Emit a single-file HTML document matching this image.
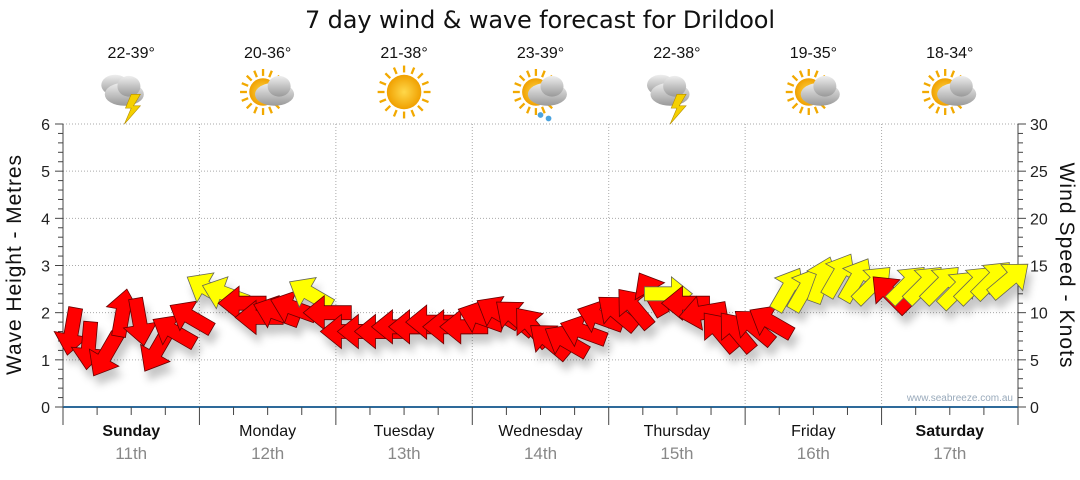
<!DOCTYPE html>
<html><head><meta charset="utf-8"><style>
body{margin:0;background:#fff;font-family:"Liberation Sans",sans-serif}
svg text{font-family:"Liberation Sans",sans-serif}
</style></head><body>
<svg id="c" width="1080" height="475" viewBox="0 0 1080 475">
<defs>
<filter id="sh" x="-50%" y="-50%" width="200%" height="200%"><feDropShadow dx="4" dy="9" stdDeviation="4" flood-color="#000" flood-opacity="0.22"/></filter>
<radialGradient id="sun"><stop offset="0" stop-color="#ffd84a"/><stop offset="1" stop-color="#f0a000"/></radialGradient>
<linearGradient id="cl" x1="0" y1="0" x2="0" y2="1"><stop offset="0" stop-color="#eee"/><stop offset="1" stop-color="#999"/></linearGradient>
</defs>
<text x="540" y="28" font-size="24" text-anchor="middle" fill="#111" style="font-family:'DejaVu Sans',sans-serif" textLength="470">7 day wind &amp; wave forecast for Drildool</text>
<g id="grid"></g><g id="axes"></g><g id="top"></g>
<g id="arrows" filter="url(#sh)"></g>
<text x="1013" y="401" font-size="10" text-anchor="end" fill="#9ab">www.seabreeze.com.au</text>
<text transform="translate(21,265) rotate(-90)" font-size="21" text-anchor="middle" fill="#111" textLength="220">Wave Height - Metres</text>
<text transform="translate(1060,265) rotate(90)" font-size="21" text-anchor="middle" fill="#111" textLength="205">Wind Speed - Knots</text>
</svg>
<script>
const days=["Sunday","Monday","Tuesday","Wednesday","Thursday","Friday","Saturday"];
const dates=["11th","12th","13th","14th","15th","16th","17th"];
const temps=["22-39°","20-36°","21-38°","23-39°","22-38°","19-35°","18-34°"];
const icons=["storm","partly","sun","rain","storm","partly","partly"];
const waveTicks=[0,1,2,3,4,5,6];
const windTicks=[0,5,10,15,20,25,30];
const windKnots=[8,6.5,5.5,10,9,6,8,9.5, 12.5,12,11,9.5,10,10.5,12,10, 8,8,8,8.5,8.5,9,8.5,8.5, 9.5,10,9.5,8.5,7,7,8,9.5, 10,10.5,12,12,11,10,8,8, 8.5,9,12.5,12.5,13.5,14,13.5,13, 12,13,13,13,12.5,13,13.5,13.5];
const windDir=[100,95,120,-80,80,120,-150,-150, -150,-160,180,180,-160,-160,-150,180, 180,180,180,180,180,180,180,180, -160,-150,-140,-130,-140,-150,-160,-160, -140,-130,-120,0,180,170,-130,-130, -140,-150,-60,-60,-70,-60,-60,-45, -135,-45,-45,-45,-45,-45,-45,-40];
const windColor=["r","r","r","r","r","r","r","r", "y","y","r","r","r","r","y","r", "r","r","r","r","r","r","r","r", "r","r","r","r","r","r","r","r", "r","r","r","y","r","r","r","r", "r","r","y","y","y","y","y","y", "r","y","y","y","y","y","y","y"];
const NS="http://www.w3.org/2000/svg";
const X0=63,X1=1018,Y0=407,Y1=124,DW=(X1-X0)/7;
const yM=v=>Y0-(v/6)*(Y0-Y1), yK=v=>Y0-(v/30)*(Y0-Y1), xH=h=>X0+h/168*(X1-X0);
function mk(t,a,p){const e=document.createElementNS(NS,t);for(const k in a)e.setAttribute(k,a[k]);(p||document.getElementById('c')).appendChild(e);return e;}
const grid=document.getElementById('grid'),axes=document.getElementById('axes'),top_=document.getElementById('top');
waveTicks.forEach(v=>{if(v>0){const l=mk('line',{x1:X0,x2:X1,y1:yM(v),y2:yM(v),stroke:'#aaa','stroke-dasharray':'1,2'},grid);}
 const t=mk('text',{x:50,y:yM(v)+6,'font-size':16,'text-anchor':'end',fill:'#222'},axes);t.textContent=v;});
windTicks.forEach(v=>{const t=mk('text',{x:1030,y:yK(v)+6,'font-size':16,fill:'#222'},axes);t.textContent=v;});
for(let i=0;i<=30;i++){const y=yK(i),w=i%5==0?8:5;mk('line',{x1:X0-w,x2:X0,y1:y,y2:y,stroke:'#444'},axes);mk('line',{x1:X1,x2:X1+w,y1:y,y2:y,stroke:'#444'},axes);}
mk('line',{x1:X0,x2:X0,y1:Y1,y2:Y0,stroke:'#444'},axes);mk('line',{x1:X1,x2:X1,y1:Y1,y2:Y0,stroke:'#444'},axes);
const xa=mk('line',{x1:X0,x2:X1,y1:Y0,y2:Y0,stroke:'#2e6a9a','stroke-width':2},axes);
for(let h=0;h<=168;h+=6){const x=xH(h);mk('line',{x1:x,x2:x,y1:Y0,y2:Y0+(h%24==0?18:8),stroke:'#444'},axes);}
days.forEach((d,i)=>{const cx=X0+DW*(i+0.5);
 if(i>0){const l=mk('line',{x1:X0+DW*i,x2:X0+DW*i,y1:Y1,y2:Y0,stroke:'#aaa','stroke-dasharray':'1,2'},grid);}
 const t=mk('text',{x:cx,y:436,'font-size':16,'text-anchor':'middle',fill:'#111','font-weight':(i==0||i==6)?'bold':'normal'},axes);t.textContent=d;
 const t2=mk('text',{x:cx,y:459,'font-size':17,'text-anchor':'middle',fill:'#888'},axes);t2.textContent=dates[i];
 const t3=mk('text',{x:cx,y:58,'font-size':16,'text-anchor':'middle',fill:'#111'},top_);t3.textContent=temps[i];
 const g=mk('g',{transform:`translate(${cx},92) scale(1.15)`},top_);
 const ic=icons[i];
 if(ic!="storm"){const sx=ic=="sun"?0:-4,r=ic=="sun"?15:12;
  for(let a=0;a<360;a+=22.5){const rad=a*Math.PI/180;mk('line',{x1:sx+Math.cos(rad)*(r+2),y1:Math.sin(rad)*(r+2),x2:sx+Math.cos(rad)*(r+8),y2:Math.sin(rad)*(r+8),stroke:'#f2a900','stroke-width':2},g);}
  mk('circle',{cx:sx,cy:0,r:r,fill:'url(#sun)'},g);}
 if(ic!="sun"){const ox=ic=="storm"?-6:6;
  if(ic=="storm"){mk('ellipse',{cx:ox-8,cy:-6,rx:12,ry:9,fill:'url(#cl)'},g);}
  mk('ellipse',{cx:ox,cy:2,rx:17,ry:10,fill:'url(#cl)'},g);mk('ellipse',{cx:ox+4,cy:-5,rx:10,ry:9,fill:'url(#cl)'},g);
  if(ic=="storm")mk('polygon',{points:"0,2 8,2 2,12 8,12 -6,28 0,14 -5,14",fill:'#f5d000',stroke:'#b08a00','stroke-width':0.5},g);
  if(ic=="rain"){mk('circle',{cx:0,cy:20,r:2.5,fill:'#4aa3df'},g);mk('circle',{cx:7,cy:23,r:2.5,fill:'#4aa3df'},g);}
 }
});
const ar=document.getElementById('arrows');
windKnots.forEach((k,i)=>{const x=X0+(i+0.5)*DW/8,y=yK(k);
 const p=mk('polygon',{points:"-24,-7 3,-7 3,-17 24,0 3,17 3,7 -24,7",fill:windColor[i]=="r"?'#f00':'#ff0',stroke:windColor[i]=="r"?'#600':'#665',
  'stroke-width':0.8,transform:`translate(${x.toFixed(1)},${y.toFixed(1)}) rotate(${windDir[i]})`},ar);
 
 
});
</script>
</body></html>
